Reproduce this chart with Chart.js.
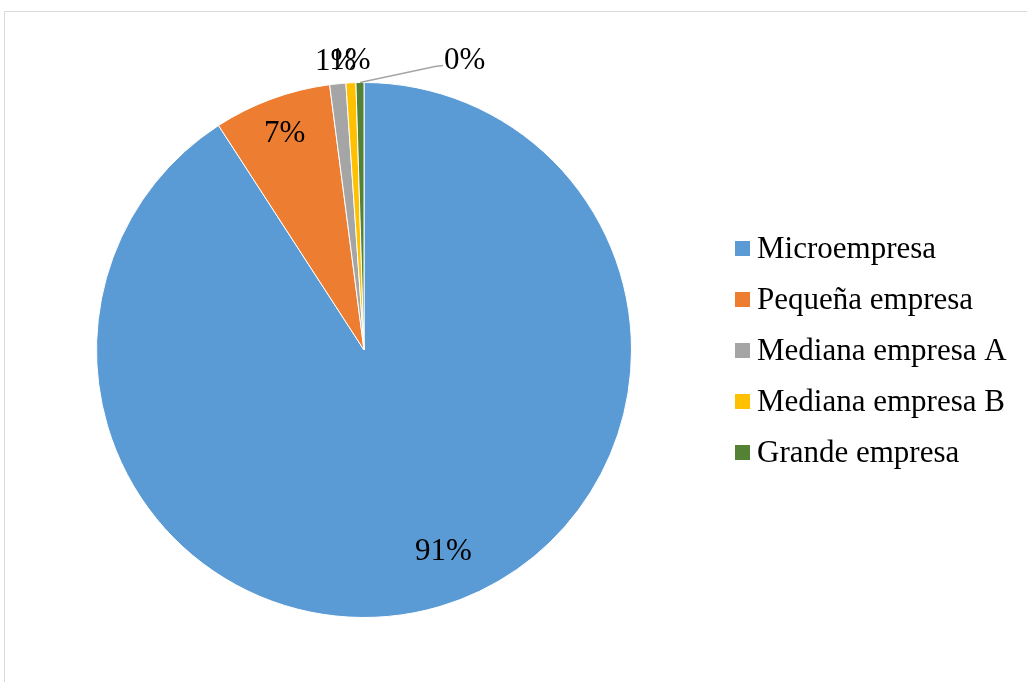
<!DOCTYPE html>
<html>
<head>
<meta charset="utf-8">
<script src="https://cdn.jsdelivr.net/npm/chart.js@4/dist/chart.umd.min.js"></script>
<style>
html,body{margin:0;padding:0;background:#fff;}
canvas{display:block;}
</style>
</head>
<body>
<canvas id="c" width="1027" height="682"></canvas>
<script>
const categories = ["Microempresa", "Pequeña empresa", "Mediana empresa A", "Mediana empresa B", "Grande empresa"];
const shares = [90.85, 7.1, 0.97, 0.6, 0.48];
const colors = ["#5B9BD5", "#ED7D31", "#A5A5A5", "#FFC000", "#548235"];

const FONT = '"Liberation Serif", "Times New Roman", serif';

// label placement style (radial factor, angular nudge in degrees)
const insideRadial = [0.81, 0.86];
const insideNudge = [-5, 0];

const framePlugin = {
  id: 'frame',
  beforeDraw(chart) {
    const ctx = chart.ctx;
    ctx.save();
    ctx.fillStyle = '#ffffff';
    ctx.fillRect(0, 0, chart.width, chart.height);
    ctx.strokeStyle = '#d9d9d9';
    ctx.lineWidth = 1;
    ctx.beginPath();
    ctx.moveTo(4.5, chart.height);
    ctx.lineTo(4.5, 11.5);
    ctx.lineTo(chart.width, 11.5);
    ctx.stroke();
    ctx.restore();
  }
};

const labelPlugin = {
  id: 'pieLabels',
  afterDatasetsDraw(chart) {
    const ctx = chart.ctx;
    const meta = chart.getDatasetMeta(0);
    const data = chart.data.datasets[0].data;
    const total = data.reduce((a, b) => a + b, 0);
    ctx.save();
    ctx.font = '31px ' + FONT;
    ctx.fillStyle = '#000';
    ctx.textBaseline = 'middle';
    meta.data.forEach((arc, i) => {
      const p = arc.getProps(['x', 'y', 'startAngle', 'endAngle', 'outerRadius'], true);
      let mid = (p.startAngle + p.endAngle) / 2;
      const pct = Math.round(data[i] / total * 100) + '%';
      const r = p.outerRadius;
      if (data[i] / total >= 0.05) {
        const f = insideRadial[i] !== undefined ? insideRadial[i] : 0.83;
        mid += (insideNudge[i] || 0) * Math.PI / 180;
        ctx.textAlign = 'center';
        ctx.fillText(pct, p.x + Math.cos(mid) * r * f, p.y + Math.sin(mid) * r * f);
      } else if (i < data.length - 1) {
        ctx.textAlign = 'center';
        ctx.fillText(pct, p.x + Math.cos(mid) * (r + 22), p.y + Math.sin(mid) * (r + 22));
      } else {
        const ax = p.x + Math.cos(mid) * r;
        const ay = p.y + Math.sin(mid) * r;
        const bx = ax + 75, by = ay - 16;
        ctx.strokeStyle = '#A5A5A5';
        ctx.lineWidth = 1.5;
        ctx.beginPath();
        ctx.moveTo(ax, ay);
        ctx.lineTo(bx, by);
        ctx.lineTo(bx + 8, by - 1);
        ctx.stroke();
        ctx.textAlign = 'left';
        ctx.fillText(pct, bx + 9, by - 6);
      }
    });
    ctx.restore();
  }
};

const legendPlugin = {
  id: 'sideLegend',
  afterDraw(chart) {
    const ctx = chart.ctx;
    const labels = chart.data.labels;
    const bg = chart.data.datasets[0].backgroundColor;
    ctx.save();
    ctx.font = '31px ' + FONT;
    ctx.textBaseline = 'middle';
    ctx.textAlign = 'left';
    const x0 = 735, y0 = 248, step = 51;
    labels.forEach((lab, i) => {
      const y = y0 + i * step;
      ctx.fillStyle = bg[i];
      ctx.fillRect(x0, y - 7, 15, 15);
      ctx.fillStyle = '#000';
      ctx.fillText(lab, x0 + 22, y + 2);
    });
    ctx.restore();
  }
};

new Chart(document.getElementById('c'), {
  type: 'pie',
  data: {
    labels: categories,
    datasets: [{
      data: shares,
      backgroundColor: colors,
      borderColor: '#ffffff',
      borderWidth: 1
    }]
  },
  options: {
    responsive: false,
    animation: false,
    devicePixelRatio: 1,
    layout: { padding: { left: 96, right: 395, top: 82, bottom: 64 } },
    plugins: {
      legend: { display: false },
      tooltip: { enabled: false }
    }
  },
  plugins: [framePlugin, labelPlugin, legendPlugin]
});
</script>
</body>
</html>
